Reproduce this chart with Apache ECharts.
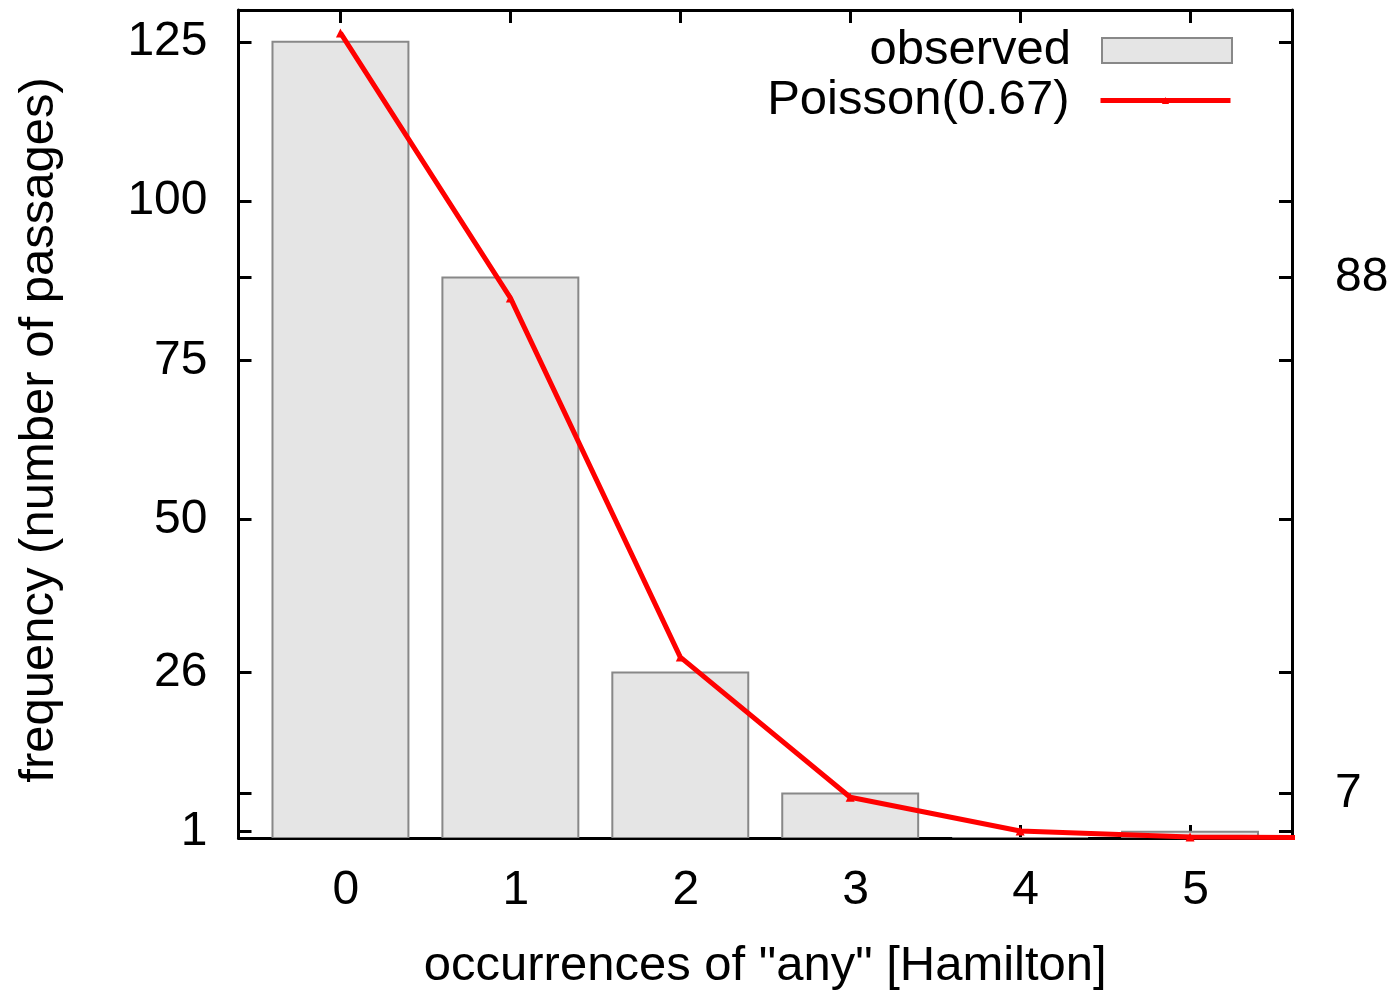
<!DOCTYPE html>
<html><head><meta charset="utf-8">
<script src="https://cdn.jsdelivr.net/npm/echarts@6/dist/echarts.min.js"></script>
<style>html,body{margin:0;padding:0;background:#fff}#c{width:1395px;height:990px}</style>
</head><body><div id="c"></div>
<script>
// ---- data ----
const categories = [0, 1, 2, 3, 4, 5];
const observed = [125, 88, 26, 7, 0, 1];
const poissonX = [0, 1, 2, 3, 4, 5, 6];
const poisson = [126.4, 84.8, 28.4, 6.4, 1.1, 0.15, 0.02];
const leftTickLabels = [1, 26, 50, 75, 100, 125];
const rightTickLabels = [7, 88];
const allYTicks = leftTickLabels.concat(rightTickLabels).sort((a, b) => a - b);

const font = '"Liberation Sans", Arial, Helvetica, sans-serif';
const FS = 48;   // tick numbers
const FT = 49;   // titles and legend
const chart = echarts.init(document.getElementById('c'), null, { renderer: 'canvas' });

const axisLine = { show: true, onZero: false, lineStyle: { color: '#000', width: 3 } };
const tick = (vals) => ({ show: true, inside: true, length: 13, customValues: vals, lineStyle: { color: '#000', width: 3 } });
const numStyle = { fontSize: FS, color: '#000', fontFamily: font };
const titleStyle = { fontSize: FT, color: '#000', fontFamily: font };

const barHalf = 0.4;
function renderBar(params, api) {
  const x = api.value(0), v = api.value(1);
  const p1 = api.coord([x - barHalf, v]);
  const p2 = api.coord([x + barHalf, 0]);
  return {
    type: 'rect',
    shape: { x: p1[0], y: p1[1], width: p2[0] - p1[0], height: p2[1] - p1[1] },
    style: { fill: '#e5e5e5', stroke: '#888888', lineWidth: 2 }
  };
}

const option = {
  backgroundColor: '#fff',
  animation: false,
  textStyle: { fontFamily: font },
  grid: { left: 238.5, right: 103, top: 10, bottom: 152, containLabel: false, outerBoundsMode: 'none' },
  legend: [
    {
      data: [{ name: 'observed', icon: 'rect', itemStyle: { color: '#e5e5e5', borderColor: '#888888', borderWidth: 2 } }],
      right: 162, top: 26, padding: 0, align: 'right', itemWidth: 130, itemHeight: 25,
      selectedMode: false,
      textStyle: Object.assign({ padding: [0, 26, 0, 0] }, titleStyle)
    },
    {
      data: [{ name: 'Poisson(0.67)', lineStyle: { color: '#ff0000', width: 5 } }],
      right: 162, top: 76, padding: 0, align: 'right', itemWidth: 130, itemHeight: 9,
      selectedMode: false,
      lineStyle: { color: '#ff0000', width: 5 },
      textStyle: Object.assign({ padding: [0, 26, 0, 0] }, titleStyle)
    }
  ],
  xAxis: [
    {
      type: 'value', min: -0.6, max: 5.6, position: 'bottom',
      axisLine: axisLine, axisTick: tick(categories),
      axisLabel: Object.assign({ customValues: categories, margin: 29, padding: [0, 0, 0, 11] }, numStyle),
      splitLine: { show: false },
      name: 'occurrences of "any" [Hamilton]', nameLocation: 'middle', nameGap: 104,
      nameTextStyle: titleStyle
    },
    {
      type: 'value', min: -0.6, max: 5.6, position: 'top',
      axisLine: axisLine, axisTick: tick(categories),
      axisLabel: { show: false }, splitLine: { show: false }
    }
  ],
  yAxis: [
    {
      type: 'value', min: 0, max: 130, position: 'left',
      axisLine: axisLine, axisTick: tick(allYTicks),
      axisLabel: Object.assign({ customValues: leftTickLabels, margin: 31, padding: [5, 0, 0, 0] }, numStyle),
      splitLine: { show: false },
      name: 'frequency (number of passages)', nameLocation: 'middle', nameGap: 175, nameRotate: 90,
      nameTextStyle: Object.assign({ padding: [0, 12, 0, 0] }, titleStyle)
    },
    {
      type: 'value', min: 0, max: 130, position: 'right',
      axisLine: axisLine, axisTick: tick(allYTicks),
      axisLabel: Object.assign({ customValues: rightTickLabels, margin: 43, padding: [7, 0, 0, 0] }, numStyle),
      splitLine: { show: false }
    }
  ],
  series: [
    {
      type: 'custom', name: 'observed', xAxisIndex: 0, yAxisIndex: 0, clip: true, z: 2,
      itemStyle: { color: '#e5e5e5', borderColor: '#888888', borderWidth: 2 },
      data: categories.map((c, i) => [c, observed[i]]),
      renderItem: renderBar
    },
    {
      type: 'line', name: 'Poisson(0.67)', xAxisIndex: 0, yAxisIndex: 0, clip: true, z: 3,
      symbol: 'triangle', symbolSize: 9, showSymbol: true,
      lineStyle: { color: '#ff0000', width: 5 },
      itemStyle: { color: '#ff0000' },
      data: poissonX.map((x, i) => [x, poisson[i]])
    }
  ]
};
chart.setOption(option);
</script></body></html>
